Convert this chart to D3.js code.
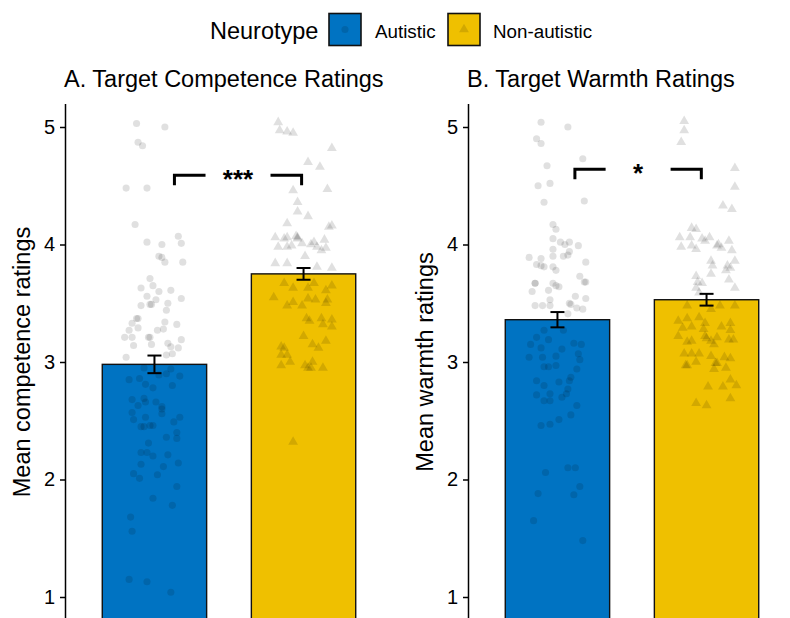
<!DOCTYPE html>
<html>
<head>
<meta charset="utf-8">
<script src="https://cdn.jsdelivr.net/npm/d3@7"></script>
<style>
  html, body { margin: 0; padding: 0; background: #fff; }
  svg { display: block; font-family: "Liberation Sans", Arial, sans-serif; }
</style>
</head>
<body>
<svg id="chart" width="790" height="618"></svg>
<script>
// Group labels and fills
const categories = ["Autistic", "Non-autistic"];
const groupColors = ["#0073C2", "#EFC000"];

// Bar heights (means) and standard errors
const competenceMeans = [2.98, 3.75];
const competenceSE = [0.075, 0.05];
const warmthMeans = [3.36, 3.53];
const warmthSE = [0.065, 0.05];

// Axis ticks and visible rating range
const yTicks = [1, 2, 3, 4, 5];
const yLimits = [1, 5];

// Participant ratings: value, horizontal jitter (in category units)
const competenceAutistic = [
  [5.03,-0.12],[5.00,0.07],[4.87,-0.11],[4.84,-0.08],[4.48,-0.19],[4.48,-0.05],[4.17,-0.13],
  [4.02,-0.05],[4.00,0.05],[4.07,0.16],[4.01,0.18],[3.90,0.03],[3.89,0.05],[3.85,0.07],[3.85,0.19],
  [3.71,-0.03],[3.63,-0.09],[3.65,-0.01],[3.60,0.03],[3.61,0.11],[3.56,-0.05],[3.53,0.01],[3.54,0.18],
  [3.49,-0.03],[3.49,-0.02],[3.48,-0.09],[3.50,0.09],[3.44,0.08],[3.37,-0.12],[3.37,-0.11],[3.33,-0.15],
  [3.34,0.07],[3.29,-0.11],[3.32,0.15],[3.27,-0.17],[3.27,0.02],[3.28,0.06],[3.21,-0.20],[3.21,-0.15],
  [3.21,-0.04],[3.21,-0.03],[3.19,0.18],[3.14,-0.14],[3.15,-0.02],[3.16,0.09],[3.13,0.11],[3.12,0.16],
  [3.04,-0.19],[3.06,0.08],[3.07,0.12],[2.85,-0.17],[2.86,-0.10],[2.81,-0.06],[2.78,-0.01],[2.80,0.12],
  [2.88,0.17],[2.95,-0.07],[2.89,0.03],[2.90,0.08],[2.94,0.11],[2.68,-0.15],[2.63,-0.11],[2.69,-0.07],
  [2.66,-0.06],[2.66,0.01],[2.62,0.05],[2.60,0.05],[2.56,0.05],[2.57,-0.15],[2.51,-0.14],[2.53,-0.06],
  [2.45,-0.09],[2.45,-0.07],[2.46,-0.03],[2.46,-0.01],[2.49,0.13],[2.53,0.17],[2.40,0.15],[2.35,0.15],
  [2.36,0.08],[2.31,-0.04],[2.23,-0.09],[2.23,-0.05],[2.20,-0.01],[2.21,0.09],[2.13,-0.09],[2.14,0.16],
  [2.11,0.06],[2.05,-0.14],[2.01,-0.10],[2.04,0.02],[1.94,0.15],[1.84,-0.01],[1.78,0.12],[1.68,-0.16],
  [1.56,-0.15],[1.15,-0.17],[1.13,-0.05],[1.04,0.11]
];
const competenceNonAutistic = [
  [5.04,-0.17],[4.97,-0.16],[4.96,-0.11],[4.95,-0.07],[4.82,0.19],[4.70,0.03],[4.66,0.11],[4.46,-0.07],
  [4.47,0.16],[4.36,-0.04],[4.28,-0.04],[4.24,0.03],[4.18,-0.11],[4.16,0.19],[4.15,0.17],[4.06,-0.19],
  [4.05,-0.13],[4.06,-0.11],[4.07,-0.05],[4.05,-0.04],[4.06,-0.04],[3.98,-0.17],[3.98,-0.11],[3.99,-0.08],
  [4.01,-0.01],[4.00,0.05],[4.02,0.07],[3.98,0.09],[4.04,0.14],[3.97,0.15],[3.95,0.12],[3.90,0.01],
  [3.84,-0.19],[3.84,-0.11],[3.81,0.09],[3.80,0.19],[3.67,-0.13],[3.63,-0.07],[3.63,0.03],[3.67,0.07],
  [3.61,0.15],[3.65,0.19],[3.55,-0.20],[3.48,-0.11],[3.51,-0.07],[3.48,-0.01],[3.54,0.03],[3.53,0.08],
  [3.53,0.16],[3.50,0.15],[3.37,0.02],[3.35,0.04],[3.37,0.12],[3.32,0.13],[3.36,0.19],[3.30,0.19],
  [3.22,0.00],[3.18,0.15],[3.15,0.06],[3.12,0.10],[3.13,-0.15],[3.12,-0.13],[3.06,-0.15],[3.06,-0.11],
  [3.00,-0.09],[2.97,-0.15],[2.97,0.01],[2.95,0.03],[3.00,0.06],[2.95,0.05],[2.95,0.13],[2.32,-0.07]
];
const warmthAutistic = [
  [5.04,-0.11],[5.00,0.07],[4.90,-0.14],[4.86,-0.11],[4.73,0.17],[4.67,-0.07],[4.50,-0.13],[4.52,-0.05],
  [4.37,0.18],[4.36,-0.09],[4.17,-0.03],[4.13,-0.01],[4.05,-0.03],[4.02,0.02],[4.00,0.05],[4.02,0.08],
  [3.99,0.14],[3.96,-0.03],[3.94,0.08],[3.89,-0.19],[3.88,-0.11],[3.90,-0.03],[3.90,0.04],[3.91,0.07],
  [3.83,-0.14],[3.82,-0.11],[3.81,-0.09],[3.81,-0.03],[3.78,-0.01],[3.85,0.19],[3.73,0.15],[3.68,0.19],
  [3.68,0.18],[3.67,-0.15],[3.67,-0.15],[3.67,-0.03],[3.65,-0.01],[3.64,0.01],[3.60,-0.17],[3.61,-0.06],
  [3.53,-0.05],[3.56,0.12],[3.54,0.19],[3.48,-0.15],[3.48,-0.10],[3.48,-0.05],[3.50,0.08],[3.49,0.09],
  [3.46,0.13],[3.45,0.17],[3.41,0.07],[3.27,-0.09],[3.27,0.04],[3.21,-0.14],[3.15,-0.18],[3.12,-0.11],
  [3.19,-0.06],[3.16,0.11],[3.15,0.16],[3.11,0.03],[3.04,-0.19],[3.04,-0.10],[3.05,-0.01],[3.07,0.14],
  [3.02,0.15],[2.96,-0.09],[2.96,-0.06],[2.97,-0.01],[2.94,0.13],[2.84,-0.14],[2.87,0.09],[2.84,0.08],
  [2.80,-0.09],[2.83,0.01],[2.77,0.07],[2.73,0.06],[2.72,-0.14],[2.73,-0.05],[2.70,0.03],[2.67,-0.09],
  [2.67,-0.05],[2.63,0.13],[2.55,0.09],[2.51,0.01],[2.46,-0.11],[2.47,-0.05],[2.10,0.07],[2.10,0.12],
  [2.06,-0.08],[1.94,0.15],[1.88,-0.13],[1.87,0.11],[1.65,-0.16],[1.48,0.17]
];
const warmthNonAutistic = [
  [5.05,-0.15],[4.97,-0.15],[4.87,-0.17],[4.65,0.19],[4.49,0.19],[4.33,0.11],[4.30,0.17],[4.14,-0.10],
  [4.13,-0.07],[4.06,-0.18],[4.06,-0.11],[4.05,-0.03],[4.03,-0.01],[4.06,0.02],[4.00,0.08],[3.99,0.07],
  [4.03,0.15],[3.98,-0.17],[3.99,-0.10],[3.96,-0.07],[3.97,0.10],[3.95,0.17],[3.86,0.19],[3.86,0.03],
  [3.82,0.04],[3.82,0.14],[3.80,0.16],[3.78,0.13],[3.75,0.03],[3.70,0.15],[3.73,-0.07],[3.68,-0.06],
  [3.67,-0.03],[3.63,-0.07],[3.63,0.19],[3.59,-0.05],[3.48,-0.13],[3.45,0.03],[3.48,0.09],[3.48,0.19],
  [3.38,-0.05],[3.37,-0.13],[3.35,-0.19],[3.33,-0.01],[3.33,0.16],[3.29,-0.16],[3.30,-0.10],[3.28,-0.02],
  [3.30,0.10],[3.27,0.16],[3.22,-0.19],[3.22,-0.01],[3.20,0.00],[3.21,0.07],[3.19,0.18],[3.17,-0.13],
  [3.18,-0.10],[3.18,0.03],[3.15,0.05],[3.19,0.15],[3.07,-0.15],[3.07,-0.10],[3.07,-0.05],[3.05,0.03],
  [3.04,0.12],[3.03,0.16],[2.97,-0.14],[2.97,-0.13],[3.00,-0.07],[2.99,0.07],[2.99,0.06],[2.94,0.05],
  [2.95,0.13],[2.85,0.16],[2.80,0.20],[2.79,0.01],[2.79,0.11],[2.69,0.16],[2.65,-0.07],[2.63,0.00]
];

// Significance brackets: start / end positions (category index units), height, label
const competenceSig = { from: 0.134, to: 0.987, y: 4.59, label: "***" };
const warmthSig = { from: 0.117, to: 0.965, y: 4.64, label: "*" };

const panels = [
  { title: "A. Target Competence Ratings", ylab: "Mean competence ratings",
    means: competenceMeans, se: competenceSE,
    points: [competenceAutistic, competenceNonAutistic], sig: competenceSig, left: 65 },
  { title: "B. Target Warmth Ratings", ylab: "Mean warmth ratings",
    means: warmthMeans, se: warmthSE,
    points: [warmthAutistic, warmthNonAutistic], sig: warmthSig, left: 468 }
];

const svg = d3.select("#chart");
const panelWidth = 328;
const plotTop = 103.5, plotBottom = 620.5;

// visible range is the 1–5 rating scale plus 5% padding on each side
const pad = (yLimits[1] - yLimits[0]) * 0.05;
const y = d3.scaleLinear().domain([yLimits[0] - pad, yLimits[1] + pad]).range([plotBottom, plotTop]);
const yBase = y.domain()[0];
const symbolFor = [d3.symbol().type(d3.symbolCircle).size(40),
                   d3.symbol().type(d3.symbolTriangle).size(42)];

panels.forEach(p => {
  const g = svg.append("g");
  const x = d3.scaleBand().domain(categories)
    .range([p.left, p.left + panelWidth]).paddingInner(0.3).paddingOuter(0.25);
  const center = i => x(categories[i]) + x.bandwidth() / 2;
  const pos = u => center(0) + u * x.step();

  // bars (bars start at zero; the panel shows only the 1–5 window)
  g.selectAll("rect.bar").data(p.means).join("rect")
    .attr("x", (d, i) => x(categories[i]))
    .attr("width", x.bandwidth())
    .attr("y", d => y(d))
    .attr("height", d => y(yBase) - y(d) + 2)
    .attr("fill", (d, i) => groupColors[i])
    .attr("stroke", "#111").attr("stroke-width", 1.4);

  // jittered individual ratings
  p.points.forEach((pts, i) => {
    g.append("g").selectAll("path").data(pts).join("path")
      .attr("d", symbolFor[i])
      .attr("transform", d => `translate(${center(i) + d[1] * x.step()},${y(d[0])})`)
      .attr("fill", "#000").attr("fill-opacity", 0.12);
  });

  // error bars (mean ± SE)
  const eb = g.append("g").attr("stroke", "#000").attr("stroke-width", 2).attr("fill", "none");
  p.means.forEach((m, i) => {
    const cx = center(i), hi = y(m + p.se[i]), lo = y(m - p.se[i]);
    eb.append("line").attr("x1", cx).attr("x2", cx).attr("y1", hi).attr("y2", lo);
    eb.append("line").attr("x1", cx - 7).attr("x2", cx + 7).attr("y1", hi).attr("y2", hi);
    eb.append("line").attr("x1", cx - 7).attr("x2", cx + 7).attr("y1", lo).attr("y2", lo);
  });

  // significance bracket with gap for the label
  const s = p.sig;
  const x1 = pos(s.from), x2 = pos(s.to), mid = (x1 + x2) / 2, gap = 32.5;
  const yl = y(s.y), tip = y(s.y - 0.085);
  g.append("path")
    .attr("d", `M${x1},${tip}V${yl}H${mid - gap}M${mid + gap},${yl}H${x2}V${tip}`)
    .attr("fill", "none").attr("stroke", "#000").attr("stroke-width", 3);
  g.append("text").attr("x", mid).attr("y", yl + 13)
    .attr("text-anchor", "middle").attr("font-size", 26).attr("font-weight", "bold")
    .text(s.label);

  // y axis
  const axis = g.append("g").attr("transform", `translate(${p.left},0)`)
    .call(d3.axisLeft(y).tickValues(yTicks).tickFormat(d3.format("d"))
      .tickSize(5).tickSizeOuter(0).tickPadding(5));
  axis.select(".domain").attr("stroke", "#000").attr("stroke-width", 1.5);
  axis.selectAll(".tick line").attr("stroke", "#000").attr("stroke-width", 1.5);
  axis.selectAll(".tick text").attr("font-size", 20).attr("fill", "#000")
    .attr("font-family", "Liberation Sans, Arial, sans-serif");

  // axis title
  g.append("text")
    .attr("transform", `translate(${p.left - 35},${(plotTop + plotBottom) / 2}) rotate(-90)`)
    .attr("text-anchor", "middle").attr("font-size", 23.5).attr("fill", "#000")
    .text(p.ylab);

  // panel title
  g.append("text").attr("x", p.left - 1).attr("y", 87)
    .attr("font-size", 23.5).attr("fill", "#000").text(p.title);
});

// legend
const legend = svg.append("g");
legend.append("text").attr("x", 210).attr("y", 38.5).attr("font-size", 23.5).text("Neurotype");
const keyX = [329, 448], labelX = [375, 493];
categories.forEach((c, i) => {
  legend.append("rect").attr("x", keyX[i]).attr("y", 13.5).attr("width", 32).attr("height", 32)
    .attr("fill", groupColors[i]).attr("stroke", "#111").attr("stroke-width", 1.6);
  legend.append("path").attr("d", symbolFor[i])
    .attr("transform", `translate(${keyX[i] + 16},${29.5})`)
    .attr("fill", "#000").attr("fill-opacity", 0.12);
  legend.append("text").attr("x", labelX[i]).attr("y", 37.5).attr("font-size", 18.8).text(c);
});
</script>
</body>
</html>
